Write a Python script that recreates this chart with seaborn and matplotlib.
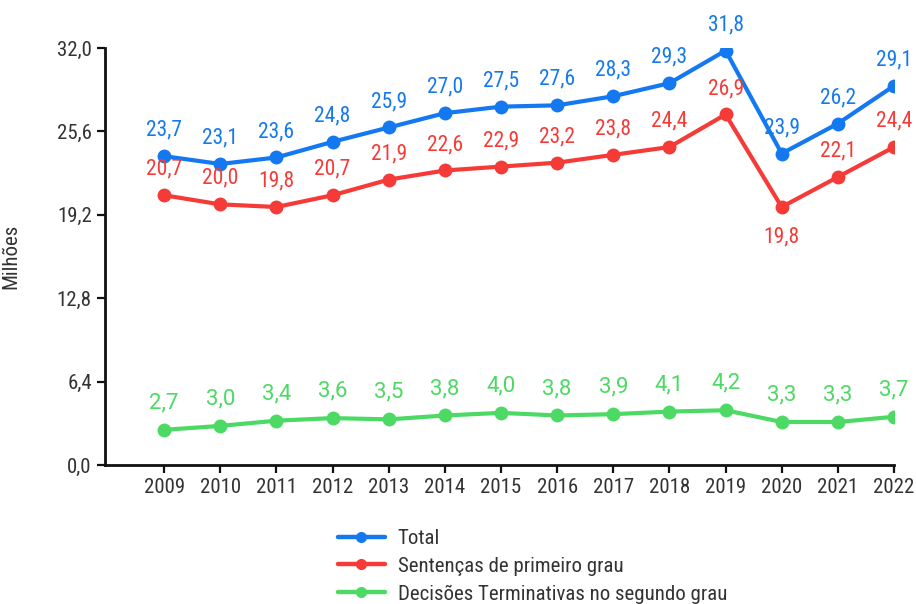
import matplotlib
matplotlib.use("Agg")
import matplotlib.pyplot as plt
import seaborn as sns
import pandas as pd
from matplotlib import font_manager

years = [2009, 2010, 2011, 2012, 2013, 2014, 2015, 2016, 2017, 2018, 2019, 2020, 2021, 2022]
total = [23.7, 23.1, 23.6, 24.8, 25.9, 27.0, 27.5, 27.6, 28.3, 29.3, 31.8, 23.9, 26.2, 29.1]
sentencas = [20.7, 20.0, 19.8, 20.7, 21.9, 22.6, 22.9, 23.2, 23.8, 24.4, 26.9, 19.8, 22.1, 24.4]
decisoes = [2.7, 3.0, 3.4, 3.6, 3.5, 3.8, 4.0, 3.8, 3.9, 4.1, 4.2, 3.3, 3.3, 3.7]
series_names = ["Total", "Sentenças de primeiro grau", "Decisões Terminativas no segundo grau"]
yticks = [0.0, 6.4, 12.8, 19.2, 25.6, 32.0]

colors = ["#1479f0", "#f53b38", "#4cd964"]

sns.set_style("white")
fonts = font_manager.fontManager.ttflist
names = {f.name for f in fonts}
fam = None
for cand in ["Roboto Condensed", "Liberation Sans Narrow", "Open Sans Condensed", "Noto Sans Condensed"]:
    if cand in names:
        fam = cand
        break
stretch = "normal"
if fam is None:
    cond = [f for f in fonts if "ondensed" in f.fname or "arrow" in f.fname]
    fam = cond[0].name if cond else "DejaVu Sans"
    if not cond:
        stretch = "condensed"
plt.rcParams["font.family"] = [fam, "DejaVu Sans"]
plt.rcParams["font.stretch"] = stretch
wide_fam = ["Roboto", "DejaVu Sans"] if "Roboto" in names else ["DejaVu Sans"]

rows = []
for name, vals in zip(series_names, [total, sentencas, decisoes]):
    for i, (y, v) in enumerate(zip(years, vals)):
        rows.append({"idx": i, "ano": y, "valor": v, "serie": name})
df = pd.DataFrame(rows)

fig = plt.figure(figsize=(9.16, 6.04), dpi=100)
ax = fig.add_axes([105 / 916, 1 - 465 / 604, (894 - 105) / 916, (465 - 48) / 604])
sns.lineplot(data=df, x="idx", y="valor", hue="serie", hue_order=series_names,
             palette=colors, marker="o", markersize=10, markeredgewidth=0,
             linewidth=3.0, ax=ax, legend=True)

for name, vals, c in zip(series_names, [total, sentencas, decisoes], colors):
    green = name == series_names[2]
    for i, v in enumerate(vals):
        below = (name == series_names[1] and years[i] == 2020)
        off = -30 if below else (27 if green else 26)
        kw = dict(family=wide_fam, fontsize=16) if green else dict(fontsize=15.5)
        ax.annotate(f"{v:.1f}".replace(".", ","), (i, v), xytext=(0, off),
                    textcoords="offset pixels",
                    ha="center", va="center", color=c, **kw)

ax.set_xlim(-(164 - 105) / 56, 13.0)
ax.set_ylim(0, 32)
ax.set_xticks(range(len(years)))
ax.set_xticklabels([str(y) for y in years])
ax.set_yticks(yticks)
ax.set_yticklabels([f"{t:.1f}".replace(".", ",") for t in yticks])
ax.tick_params(axis="both", direction="out", length=5.5, width=1.6, color="#111111",
               labelsize=15, labelcolor="#333333", bottom=True, left=True, pad=4)
ax.set_xlabel("")
ax.set_ylabel("Milhões", fontsize=15, color="#333333")
ax.yaxis.set_label_coords(-0.107, 0.5)
for s in ["top", "right"]:
    ax.spines[s].set_visible(False)
for s in ["left", "bottom"]:
    ax.spines[s].set_color("#111111")
    ax.spines[s].set_linewidth(2)

handles, labels = ax.get_legend_handles_labels()
ax.get_legend().remove()
leg = fig.legend(handles, labels, loc="upper left", bbox_to_anchor=(338 / 916, 1 - 529 / 604),
                 frameon=False, fontsize=15, labelspacing=0.42, handlelength=2.25,
                 handletextpad=0.62, borderaxespad=0, borderpad=0)
for t in leg.get_texts():
    t.set_color("#333333")
for h in leg.legend_handles:
    try:
        h.set_markersize(8)
        h.set_linewidth(3.2)
    except Exception:
        pass

fig.savefig("out.png", dpi=100)
